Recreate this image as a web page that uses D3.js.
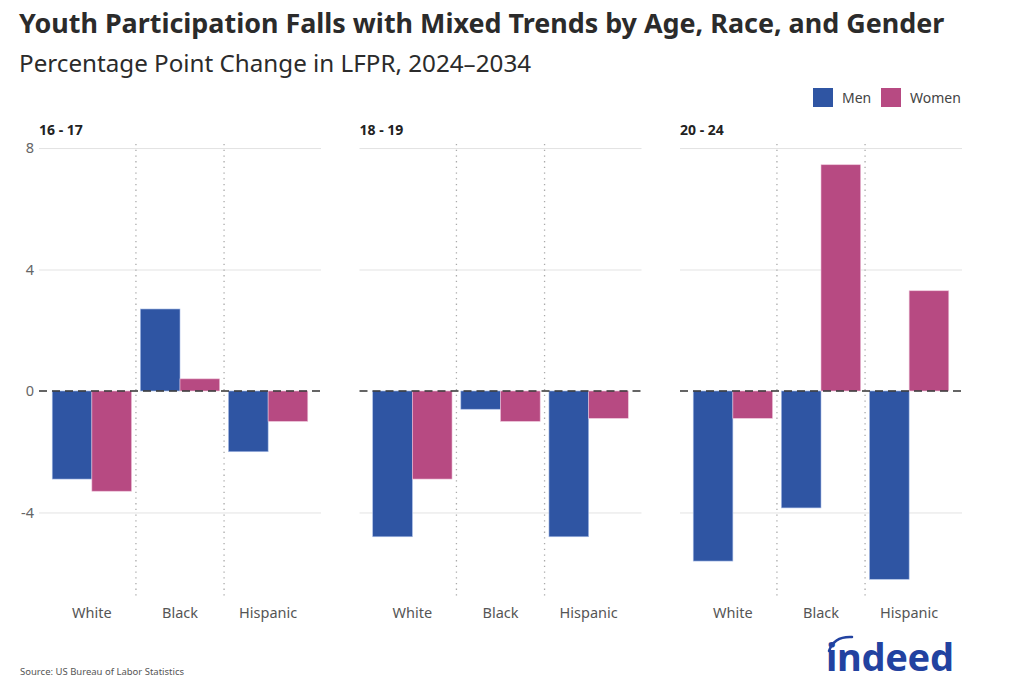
<!DOCTYPE html>
<html>
<head>
<meta charset="utf-8">
<script src="https://cdn.jsdelivr.net/npm/d3@7"></script>
<style>
  html, body { margin: 0; padding: 0; background: #fff; }
  svg { display: block; font-family: "Noto Sans", "Open Sans", sans-serif; }
</style>
</head>
<body>
<div id="chart"></div>
<script>
// data
const ageGroups = ['16 - 17', '18 - 19', '20 - 24'];
const races = ['White', 'Black', 'Hispanic'];
const genders = ['Men', 'Women'];
const menValues = [
  [-2.9, 2.7, -2.0],
  [-4.8, -0.6, -4.8],
  [-5.6, -3.85, -6.2]
];
const womenValues = [
  [-3.3, 0.4, -1.0],
  [-2.9, -1.0, -0.9],
  [-0.9, 7.45, 3.3]
];
const yTicks = [8, 4, 0, -4];
const colors = ['#2f55a3', '#b74a82'];

const width = 1024, height = 688;
const svg = d3.select('#chart').append('svg')
  .attr('width', width)
  .attr('height', height);

// titles
svg.append('text')
  .attr('x', 19).attr('y', 33)
  .attr('font-size', 26.9).attr('font-weight', 700).attr('fill', '#2b2b2b')
  .text('Youth Participation Falls with Mixed Trends by Age, Race, and Gender');
svg.append('text')
  .attr('x', 19).attr('y', 72)
  .attr('font-size', 24.2).attr('fill', '#2b2b2b')
  .text('Percentage Point Change in LFPR, 2024\u20132034');

// legend
const legend = svg.append('g').attr('transform', 'translate(813,88)');
const legendX = [0, 68];
genders.forEach((g, i) => {
  const item = legend.append('g').attr('transform', `translate(${legendX[i]},0)`);
  item.append('rect').attr('width', 20).attr('height', 19).attr('fill', colors[i]);
  item.append('text').attr('x', 29).attr('y', 15)
    .attr('font-size', 14).attr('fill', '#444').text(g);
});

// scales
const panelX = d3.scalePoint().domain(ageGroups).range([39, 680]);
const panelW = 282;
const y = d3.scaleLinear().domain([-6.8, 8.1]).range([597.5, 145]);
const x = d3.scaleBand().domain(races).range([0, panelW])
  .paddingInner(0.1).paddingOuter(0.15);
const xSub = d3.scaleBand().domain(genders).range([0, x.bandwidth()]);

ageGroups.forEach((age, p) => {
  const g = svg.append('g').attr('transform', `translate(${panelX(age)},0)`);

  // grid
  g.append('g')
    .call(d3.axisLeft(y).tickValues(yTicks.filter(t => t !== 0)).tickSize(-panelW).tickFormat(''))
    .call(a => a.select('.domain').remove())
    .call(a => a.selectAll('line').attr('stroke', '#e3e3e3').attr('stroke-width', 1));

  // dotted separators
  const seps = races.slice(1).map(r => x(r) - x.step() * x.paddingInner() / 2);
  g.selectAll('.sep').data(seps).enter().append('line')
    .attr('x1', d => d).attr('x2', d => d)
    .attr('y1', y(8.1) - 1).attr('y2', y(-6.8))
    .attr('stroke', '#aaa').attr('stroke-width', 1.3)
    .attr('stroke-dasharray', '1.3,4.4');

  // panel title
  g.append('text').attr('x', 0).attr('y', 135)
    .attr('font-size', 14).attr('font-weight', 700).attr('fill', '#222')
    .text(age);

  // y labels on first panel only
  if (p === 0) {
    g.append('g')
      .call(d3.axisLeft(y).tickValues(yTicks).tickSize(0).tickPadding(5).tickFormat(d => String(d)))
      .call(a => a.select('.domain').remove())
      .call(a => a.selectAll('text').attr('font-size', 14.5).attr('fill', '#666')
        .attr('font-family', '"Noto Sans", sans-serif'));
  }

  // bars
  const rows = races.map((r, i) => ({ race: r, vals: [menValues[p][i], womenValues[p][i]] }));
  const grp = g.selectAll('.grp').data(rows).enter().append('g')
    .attr('transform', d => `translate(${x(d.race)},0)`);
  grp.selectAll('rect').data(d => d.vals).enter().append('rect')
    .attr('x', (d, i) => xSub(genders[i]))
    .attr('width', xSub.bandwidth())
    .attr('y', d => y(Math.max(0, d)))
    .attr('height', d => Math.abs(y(d) - y(0)))
    .attr('fill', (d, i) => colors[i])
    .attr('stroke', (d, i) => i === 0 ? '#a9bde6' : '#edc3d9')
    .attr('stroke-width', 0.6);

  // zero line
  g.append('line')
    .attr('x1', 0).attr('x2', panelW)
    .attr('y1', y(0)).attr('y2', y(0))
    .attr('stroke', '#333').attr('stroke-width', 1.6)
    .attr('stroke-dasharray', '8,5');

  // x labels
  g.selectAll('.xl').data(races).enter().append('text')
    .attr('x', d => x(d) + x.bandwidth() / 2)
    .attr('y', 618)
    .attr('text-anchor', 'middle')
    .attr('font-size', 14.5).attr('fill', '#555')
    .text(d => d);
});

// source
svg.append('text').attr('x', 20).attr('y', 675)
  .attr('font-size', 9.5).attr('fill', '#555')
  .text('Source: US Bureau of Labor Statistics');

// logo
const logo = svg.append('g').attr('transform', 'translate(826,671)');
logo.append('text').attr('x', 0).attr('y', 0)
  .attr('font-size', 38).attr('font-weight', 700).attr('fill', '#2242a0')
  .attr('letter-spacing', -0.3)
  .text('indeed');
logo.append('path')
  .attr('d', 'M3,-20 Q8,-35 26,-34')
  .attr('fill', 'none').attr('stroke', '#2242a0').attr('stroke-width', 2.5)
  .attr('stroke-linecap', 'round');
</script>
</body>
</html>
